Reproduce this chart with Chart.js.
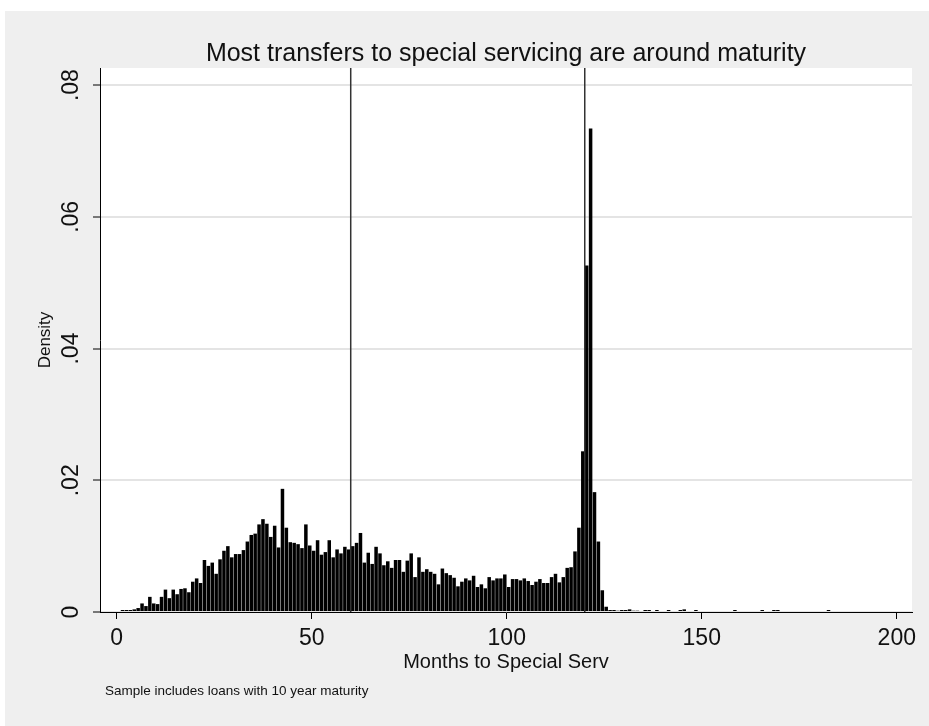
<!DOCTYPE html>
<html>
<head>
<meta charset="utf-8">
<style>
  html, body { margin: 0; padding: 0; background: #ffffff; }
  canvas { display: block; }
</style>
<script src="https://cdn.jsdelivr.net/npm/chart.js@4.4.1/dist/chart.umd.min.js"></script>
</head>
<body>
<canvas id="chart" width="929" height="726"></canvas>
<script>
// Texts
const chartTitle = 'Most transfers to special servicing are around maturity';
const xAxisTitle = 'Months to Special Serv';
const yAxisTitle = 'Density';
const noteText = 'Sample includes loans with 10 year maturity';

// Axis ticks
const xTickValues = [0, 50, 100, 150, 200];
const yTickValues = [0, 0.02, 0.04, 0.06, 0.08];

// Reference lines (months)
const markerMonths = [60, 120];

// Histogram: one-month bins [m, m+1), density per bin, months 1..182
const firstMonth = 1;
const density = [
  0.0003, 0.0003, 0.0003, 0.0004, 0.0006, 0.0013, 0.0009, 0.0023, 0.0013, 0.0012,
  0.0023, 0.0034, 0.0021, 0.0034, 0.0027, 0.0035, 0.0036, 0.0030, 0.0046, 0.0051,
  0.0044, 0.0079, 0.0070, 0.0075, 0.0058, 0.0080, 0.0093, 0.0100, 0.0083, 0.0088,
  0.0088, 0.0094, 0.0107, 0.0117, 0.0119, 0.0133, 0.0141, 0.0134, 0.0114, 0.0131,
  0.0098, 0.0187, 0.0128, 0.0106, 0.0105, 0.0103, 0.0097, 0.0133, 0.0101, 0.0093,
  0.0109, 0.0087, 0.0091, 0.0109, 0.0083, 0.0095, 0.0089, 0.0099, 0.0095, 0.0100,
  0.0105, 0.0120, 0.0075, 0.0090, 0.0073, 0.0099, 0.0089, 0.0071, 0.0077, 0.0067,
  0.0079, 0.0079, 0.0061, 0.0078, 0.0089, 0.0053, 0.0083, 0.0061, 0.0065, 0.0061,
  0.0058, 0.0042, 0.0066, 0.0059, 0.0056, 0.0052, 0.0039, 0.0046, 0.0051, 0.0048,
  0.0055, 0.0038, 0.0042, 0.0036, 0.0053, 0.0048, 0.0051, 0.0051, 0.0057, 0.0038,
  0.0050, 0.0050, 0.0048, 0.0051, 0.0047, 0.0041, 0.0046, 0.0050, 0.0044, 0.0044,
  0.0053, 0.0058, 0.0045, 0.0053, 0.0067, 0.0068, 0.0092, 0.0128, 0.0244, 0.0526,
  0.0734, 0.0182, 0.0107, 0.0033, 0.0008, 0.0003, 0.0003, 0.0002, 0.0003, 0.0003,
  0.0004, 0.0002, 0.0002, 0,      0.0003, 0.0003, 0,      0.0003, 0,      0,
  0.0003, 0,      0,      0.0003, 0.0004, 0,      0,      0.0003, 0,      0,
  0,      0,      0,      0,      0,      0,      0,      0.0003, 0,      0,
  0,      0,      0,      0,      0.0003, 0,      0,      0.0003, 0.0003, 0,
  0,      0,      0,      0,      0,      0,      0,      0,      0,      0,
  0,      0.0003
];
const months = density.map((_, i) => firstMonth + i);

const FONT = "'Liberation Sans', Arial, Helvetica, sans-serif";
const TEXT_COLOR = '#111111';
const PAGE_GRAY = '#efefef';

// Paints the outer grey region and the white plot region
const backdrop = {
  id: 'backdrop',
  beforeDraw(chart) {
    const { ctx, chartArea, width, height } = chart;
    ctx.save();
    ctx.fillStyle = '#ffffff';
    ctx.fillRect(0, 0, width, height);
    ctx.fillStyle = PAGE_GRAY;
    ctx.fillRect(5, 11, width - 5, height - 11);
    ctx.fillStyle = '#ffffff';
    ctx.fillRect(chartArea.left, chartArea.top,
                 chartArea.right - chartArea.left, chartArea.bottom - chartArea.top);
    ctx.restore();
  }
};

// Vertical month markers, title and note
const overlay = {
  id: 'overlay',
  afterDatasetsDraw(chart) {
    const { ctx, chartArea, scales } = chart;
    ctx.save();
    ctx.strokeStyle = '#333333';
    ctx.lineWidth = 1.5;
    markerMonths.forEach(m => {
      const px = scales.x.getPixelForValue(m);
      ctx.beginPath();
      ctx.moveTo(px, chartArea.top);
      ctx.lineTo(px, chartArea.bottom);
      ctx.stroke();
    });
    ctx.restore();
  },
  afterDraw(chart) {
    const { ctx, chartArea } = chart;
    ctx.save();
    ctx.fillStyle = TEXT_COLOR;
    ctx.textBaseline = 'alphabetic';
    ctx.font = '25px ' + FONT;
    ctx.textAlign = 'center';
    ctx.fillText(chartTitle, (chartArea.left + chartArea.right) / 2, 61);
    ctx.font = '13.5px ' + FONT;
    ctx.textAlign = 'left';
    ctx.fillText(noteText, 105, 695);
    ctx.restore();
  }
};

new Chart(document.getElementById('chart').getContext('2d'), {
  type: 'bar',
  data: {
    datasets: [{
      data: months.map((m, i) => ({ x: m + 0.5, y: density[i] })),
      backgroundColor: '#000000',
      borderWidth: 0,
      barPercentage: 0.9,
      categoryPercentage: 1
    }]
  },
  options: {
    responsive: false,
    animation: false,
    devicePixelRatio: 1,
    layout: { padding: { left: 0, top: 68, right: 17, bottom: 0 } },
    plugins: {
      legend: { display: false },
      tooltip: { enabled: false },
      title: { display: false }
    },
    scales: {
      x: {
        type: 'linear',
        min: -4.28,
        max: 203.9,
        offset: false,
        grid: {
          display: true, drawOnChartArea: false, drawTicks: true,
          tickLength: 7, color: '#000000', tickColor: '#000000', offset: false
        },
        border: { display: true, color: '#000000', width: 1, z: 1 },
        afterBuildTicks: s => { s.ticks = xTickValues.map(v => ({ value: v })); },
        afterFit: s => { s.height = 114; },
        ticks: {
          font: { family: FONT, size: 23 }, color: TEXT_COLOR,
          padding: 6, maxRotation: 0, autoSkip: false,
          callback: v => String(v)
        },
        title: {
          display: true, text: xAxisTitle, color: TEXT_COLOR,
          font: { family: FONT, size: 20 }, padding: { top: 0, bottom: 52 }
        }
      },
      y: {
        min: 0,
        max: 0.0826,
        grid: {
          color: '#e4e4e4', lineWidth: 2, drawTicks: true,
          tickLength: 7, tickColor: '#000000', tickWidth: 1
        },
        border: { display: true, color: '#000000', width: 1, z: 1 },
        afterBuildTicks: s => { s.ticks = yTickValues.map(v => ({ value: v })); },
        afterFit: s => { s.width = 100; },
        ticks: {
          font: { family: FONT, size: 23 }, color: TEXT_COLOR,
          padding: 5, minRotation: 90, maxRotation: 90, crossAlign: 'center',
          callback: v => (v === 0 ? '0' : String(v).replace(/^0/, ''))
        },
        title: {
          display: true, text: yAxisTitle, color: TEXT_COLOR,
          font: { family: FONT, size: 17 }, padding: { top: 35, bottom: 0 }
        }
      }
    }
  },
  plugins: [backdrop, overlay]
});
</script>
</body>
</html>
